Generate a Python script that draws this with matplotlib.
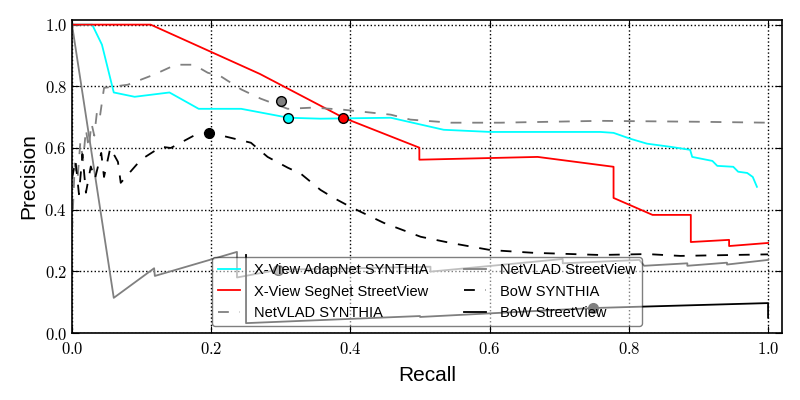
import matplotlib
matplotlib.use("Agg")
import matplotlib.pyplot as plt
from matplotlib.ticker import FuncFormatter

plt.rcParams['font.family'] = ['Liberation Sans', 'DejaVu Sans']
plt.rcParams['mathtext.fontset'] = 'cm'

GRAY = '#808080'

# X-View AdapNet SYNTHIA
cyan_x = [0.0, 0.029, 0.043, 0.06, 0.09, 0.14, 0.182, 0.243, 0.311, 0.357, 0.458, 0.534,
          0.601, 0.711, 0.759, 0.778, 0.802, 0.826, 0.859, 0.888, 0.891, 0.92, 0.927,
          0.95, 0.957, 0.97, 0.978, 0.984]
cyan_y = [1.0, 1.0, 0.935, 0.78, 0.766, 0.78, 0.727, 0.727, 0.698, 0.695, 0.698, 0.659,
          0.652, 0.652, 0.652, 0.649, 0.63, 0.614, 0.604, 0.594, 0.571, 0.558, 0.542,
          0.539, 0.523, 0.519, 0.506, 0.474]

# X-View SegNet StreetView
red_x = [0.0, 0.113, 0.27, 0.39, 0.499, 0.499, 0.669, 0.778, 0.778, 0.834, 0.889, 0.889,
         0.944, 0.944, 1.0]
red_y = [1.0, 1.0, 0.84, 0.698, 0.601, 0.562, 0.571, 0.539, 0.438, 0.383, 0.383, 0.295,
         0.302, 0.282, 0.292]

# NetVLAD SYNTHIA
nvs_x = [0.0, 0.004, 0.008, 0.012, 0.016, 0.02, 0.024, 0.028, 0.032, 0.036, 0.04, 0.046,
         0.08, 0.118, 0.149, 0.175, 0.195, 0.214, 0.243, 0.271, 0.31, 0.347, 0.39, 0.458,
         0.486, 0.544, 0.616, 0.759, 0.9, 1.0, 1.0]
nvs_y = [0.33, 0.55, 0.5, 0.62, 0.56, 0.66, 0.6, 0.68, 0.64, 0.72, 0.7, 0.795,
         0.805, 0.838, 0.87, 0.87, 0.844, 0.832, 0.79, 0.76, 0.727, 0.731, 0.724, 0.708,
         0.692, 0.682, 0.682, 0.688, 0.685, 0.682, 0.67]

# NetVLAD StreetView
nvsv_x = [0.0, 0.06, 0.118, 0.119, 0.237, 0.237, 0.296, 0.515, 0.515, 0.705, 0.705,
          0.815, 0.822, 0.884, 0.884, 0.941, 0.941, 1.0]
nvsv_y = [1.0, 0.114, 0.21, 0.185, 0.263, 0.18, 0.205, 0.215, 0.199, 0.24, 0.226,
          0.237, 0.218, 0.226, 0.218, 0.228, 0.222, 0.237]

# BoW SYNTHIA
bows_x = [0.0, 0.005, 0.01, 0.015, 0.02, 0.027, 0.033, 0.042, 0.046, 0.055, 0.066, 0.07,
          0.099, 0.128, 0.142, 0.175, 0.197, 0.228, 0.257, 0.281, 0.31, 0.329, 0.357,
          0.376, 0.4, 0.448, 0.501, 0.544, 0.601, 0.663, 0.759, 0.826, 0.874, 1.0]
bows_y = [0.5, 0.56, 0.45, 0.58, 0.455, 0.54, 0.5, 0.584, 0.506, 0.6, 0.555, 0.487,
          0.562, 0.604, 0.6, 0.64, 0.65, 0.633, 0.617, 0.571, 0.536, 0.516, 0.464,
          0.438, 0.409, 0.357, 0.312, 0.292, 0.269, 0.26, 0.253, 0.256, 0.25, 0.255]

# BoW StreetView
bowsv_x = [0.25, 0.25, 0.5, 0.5, 0.749, 1.0, 1.0]
bowsv_y = [0.253, 0.032, 0.055, 0.052, 0.081, 0.097, 0.05]

# operating points
pt_x = [0.311, 0.39, 0.30, 0.296, 0.197, 0.749]
pt_y = [0.698, 0.698, 0.753, 0.205, 0.65, 0.081]
pt_c = ['cyan', 'red', GRAY, GRAY, 'black', 'black']

fig = plt.figure(figsize=(8, 4), dpi=100)
ax = fig.add_axes([0.09, 0.1675, 0.8875, 0.7825])

ax.plot(cyan_x, cyan_y, color='cyan', lw=1.3, label='X-View AdapNet SYNTHIA')
ax.plot(red_x, red_y, color='red', lw=1.3, label='X-View SegNet StreetView')
ax.plot(nvs_x, nvs_y, color=GRAY, lw=1.3, ls=(0, (6, 6)), label='NetVLAD SYNTHIA')
ax.plot(nvsv_x, nvsv_y, color=GRAY, lw=1.3, label='NetVLAD StreetView')
ax.plot(bows_x, bows_y, color='black', lw=1.3, ls=(0, (6, 6)), label='BoW SYNTHIA')
ax.plot(bowsv_x, bowsv_y, color='black', lw=1.3, label='BoW StreetView')
for x, y, c in zip(pt_x, pt_y, pt_c):
    ax.plot(x, y, 'o', color=c, mec='black', ms=7, zorder=5)

ax.set_xlim(0, 1.02)
ax.set_ylim(0, 1.015)
ax.set_xticks([0, 0.2, 0.4, 0.6, 0.8, 1.0])
ax.set_yticks([0, 0.2, 0.4, 0.6, 0.8, 1.0])
fmt = FuncFormatter(lambda v, p: r'$%.1f$' % v)
ax.xaxis.set_major_formatter(fmt)
ax.yaxis.set_major_formatter(fmt)
ax.tick_params(direction='in', length=5, top=True, right=True, labelsize=12)
ax.tick_params(axis='x', pad=6)
ax.grid(True, color='black', ls=':', lw=1)
for s in ax.spines.values():
    s.set_linewidth(1.2)

ax.set_xlabel('Recall', fontsize=15, labelpad=6)
ax.set_ylabel('Precision', fontsize=15)

leg = ax.legend(loc='lower center', ncol=2, fontsize=10.5, framealpha=0.5, fancybox=True,
                handlelength=1.5, handletextpad=1.0, columnspacing=2.4, labelspacing=0.5)
leg.get_frame().set_edgecolor('black')

fig.savefig('out.png', dpi=100)
